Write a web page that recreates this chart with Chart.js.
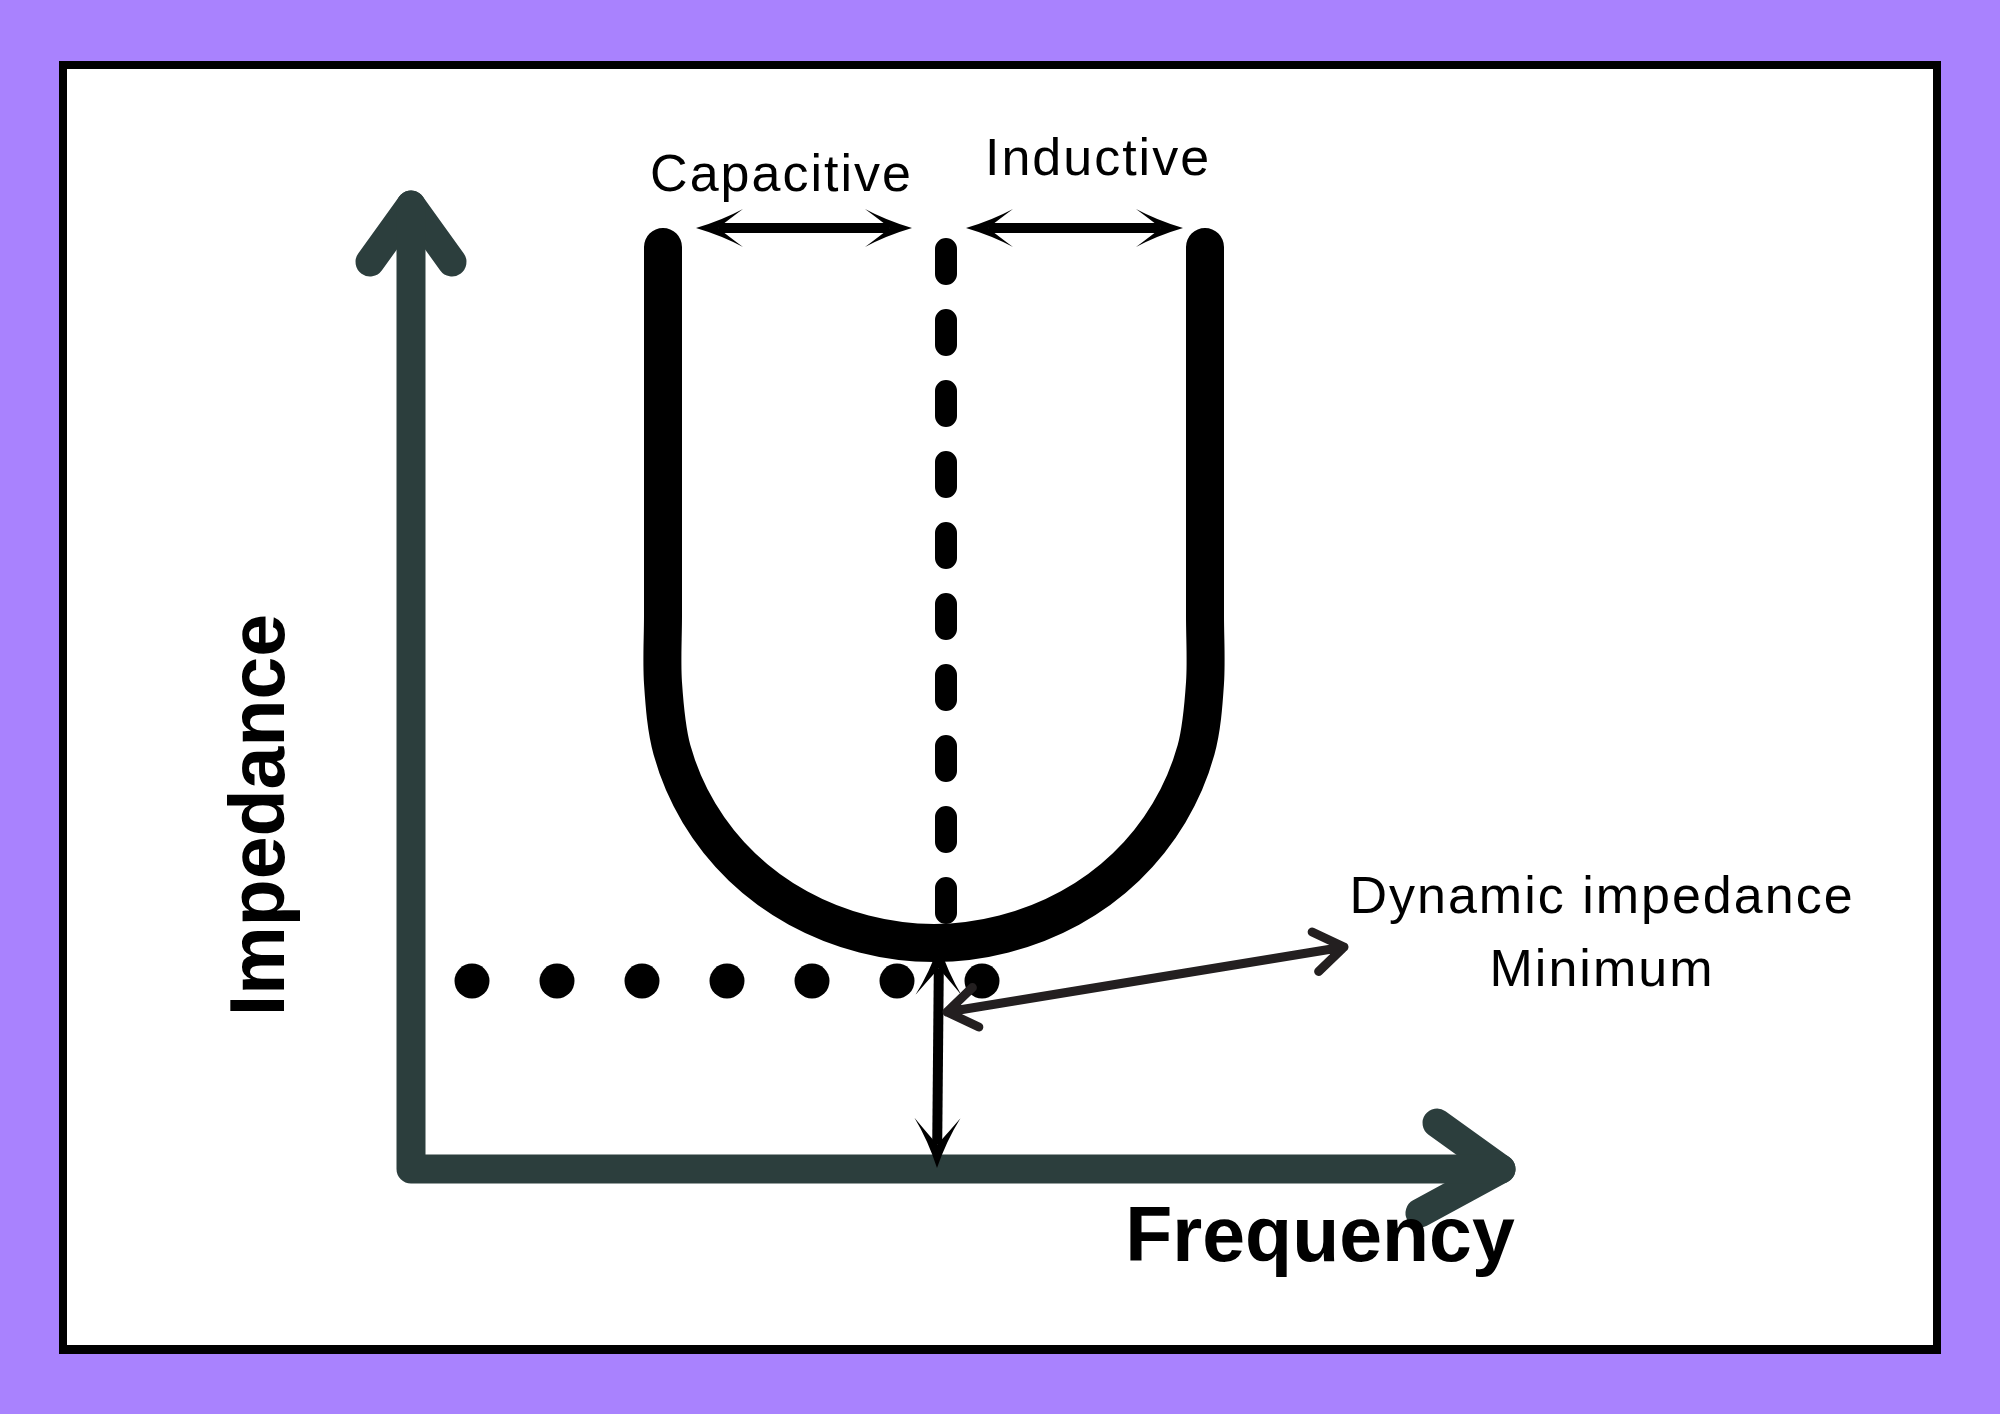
<!DOCTYPE html>
<html>
<head>
<meta charset="utf-8">
<script src="https://cdn.jsdelivr.net/npm/chart.js@4.4.1/dist/chart.umd.min.js"></script>
<style>
  html, body { margin: 0; padding: 0; }
  body { width: 2000px; height: 1414px; background: #a982fe; position: relative; overflow: hidden; }
  #frame {
    position: absolute; left: 59px; top: 61px; width: 1882px; height: 1293px;
    box-sizing: border-box; border: 8px solid #000; border-bottom-width: 9px; background: #fff;
  }
  #wrap { position: absolute; left: 0; top: 0; width: 2000px; height: 1414px; }
</style>
</head>
<body>
<div id="frame"></div>
<div id="wrap"><canvas id="chart"></canvas></div>
<script>
// Diagram values. Units: frequency / impedance, origin at the axes corner.
const axisLine = [[0, 96.4], [0, 0], [109, 0]];
const yAxisHead = [[-4.1, 90.7], [0, 96.4], [4.1, 90.7]];
const xAxisHead = [[102.6, 4.6], [109, 0], [100.9, -4.4]];

// the U shaped impedance curve: left branch, dip, right branch
const impedanceCurve = [
  [25.2, 92.2], [25.2, 55.3], [25.2, 48.6],
  [26.1, 41.9], [28.8, 35.6], [33.1, 30.2], [38.7, 26.1], [45.3, 23.5],
  [52.3, 22.6],
  [59.3, 23.5], [65.9, 26.1], [71.5, 30.2], [75.8, 35.6], [78.5, 41.9],
  [79.4, 48.6], [79.4, 55.3], [79.4, 92.2]
];

// resonance line and the dotted minimum level
const resonanceLine = [[53.5, 92.0], [53.5, 25.6]];
const dotFreqs = [6.1, 14.6, 23.1, 31.6, 40.1, 48.6, 57.1];
const dotLevel = 18.8;

// arrows (start, end)
const regionArrows = [
  [[28.5, 94.1], [50.1, 94.1]],
  [[55.5, 94.1], [77.2, 94.1]]
];
const minimumArrow = [[52.8, 22.4], [52.6, 0.1]];
const labelArrow = [[53.6, 15.7], [93.3, 22.2]];

// text
const labelText = ['Capacitive', 'Inductive', 'Dynamic impedance', 'Minimum'];
const labelAnchor = [[37.05, 97.8], [68.7, 99.4], [119.1, 25.6], [119.1, 18.3]];
const axisTitles = ['Frequency', 'Impedance'];
const axisTitleAnchor = [[90.9, -9.2], [-12.7, 35.4]];

const AXIS_COLOR = '#2c3e3d';
const toPts = arr => arr.map(p => ({ x: p[0], y: p[1] }));

function lineSet(data, color, width, extra) {
  return Object.assign({
    data: toPts(data),
    showLine: true,
    borderColor: color,
    borderWidth: width,
    borderCapStyle: 'round',
    borderJoinStyle: 'round',
    pointRadius: 0,
    tension: 0,
    fill: false
  }, extra || {});
}

function sweptHead(ctx, tip, back, L, W) {
  const perp = { x: -back.y, y: back.x };
  const P = (u, v) => [tip.x + back.x * u + perp.x * v, tip.y + back.y * u + perp.y * v];
  const N = 0.47 * L;
  ctx.beginPath();
  ctx.moveTo(...P(0, 0));
  ctx.quadraticCurveTo(...P(0.55 * L, 0.4 * W), ...P(L, W));
  ctx.quadraticCurveTo(...P(0.7 * L, 0.45 * W), ...P(N, 0));
  ctx.quadraticCurveTo(...P(0.7 * L, -0.45 * W), ...P(L, -W));
  ctx.quadraticCurveTo(...P(0.55 * L, -0.4 * W), ...P(0, 0));
  ctx.closePath();
  ctx.fill();
}

function sweptArrow(ctx, a, b, L, W, shaft) {
  const len = Math.hypot(b.x - a.x, b.y - a.y);
  const d = { x: (b.x - a.x) / len, y: (b.y - a.y) / len };
  const N = 0.47 * L;
  ctx.lineWidth = shaft;
  ctx.lineCap = 'butt';
  ctx.beginPath();
  ctx.moveTo(a.x + d.x * N, a.y + d.y * N);
  ctx.lineTo(b.x - d.x * N, b.y - d.y * N);
  ctx.stroke();
  sweptHead(ctx, a, d, L, W);
  sweptHead(ctx, b, { x: -d.x, y: -d.y }, L, W);
}

function chevronArrow(ctx, a, b, back, half, width) {
  const len = Math.hypot(b.x - a.x, b.y - a.y);
  const d = { x: (b.x - a.x) / len, y: (b.y - a.y) / len };
  const n = { x: -d.y, y: d.x };
  ctx.lineWidth = width;
  ctx.lineCap = 'round';
  ctx.lineJoin = 'round';
  ctx.beginPath();
  ctx.moveTo(a.x, a.y);
  ctx.lineTo(b.x, b.y);
  [[a, 1], [b, -1]].forEach(([t, s]) => {
    ctx.moveTo(t.x + s * d.x * back + n.x * half, t.y + s * d.y * back + n.y * half);
    ctx.lineTo(t.x, t.y);
    ctx.lineTo(t.x + s * d.x * back - n.x * half, t.y + s * d.y * back - n.y * half);
  });
  ctx.stroke();
}

const diagramOverlay = {
  id: 'diagramOverlay',
  afterDatasetsDraw(chart) {
    const { ctx, scales } = chart;
    const px = p => ({ x: scales.x.getPixelForValue(p[0]), y: scales.y.getPixelForValue(p[1]) });

    ctx.save();
    ctx.fillStyle = '#000';
    ctx.strokeStyle = '#000';
    regionArrows.forEach(a => sweptArrow(ctx, px(a[0]), px(a[1]), 47, 19, 10));
    sweptArrow(ctx, px(minimumArrow[0]), px(minimumArrow[1]), 50, 23, 10);

    ctx.strokeStyle = '#231f20';
    chevronArrow(ctx, px(labelArrow[0]), px(labelArrow[1]), 29, 20, 9);

    // labels
    ctx.fillStyle = '#000';
    ctx.textAlign = 'center';
    ctx.textBaseline = 'alphabetic';
    ctx.font = '52px "Liberation Sans", Arial, sans-serif';
    ctx.letterSpacing = '2px';
    labelText.forEach((t, i) => {
      const p = px(labelAnchor[i]);
      ctx.fillText(t, p.x, p.y);
    });

    // axis titles
    ctx.letterSpacing = '0px';
    ctx.font = 'bold 77px "Liberation Sans", Arial, sans-serif';
    const f = px(axisTitleAnchor[0]);
    ctx.fillText(axisTitles[0], f.x, f.y);
    const im = px(axisTitleAnchor[1]);
    ctx.translate(im.x, im.y);
    ctx.rotate(-Math.PI / 2);
    ctx.fillText(axisTitles[1], 0, 0);
    ctx.restore();
  }
};

new Chart(document.getElementById('chart'), {
  type: 'scatter',
  data: {
    datasets: [
      lineSet(axisLine, AXIS_COLOR, 29, { order: 5 }),
      lineSet(yAxisHead, AXIS_COLOR, 29, { order: 5 }),
      lineSet(xAxisHead, AXIS_COLOR, 29, { order: 5 }),
      lineSet(impedanceCurve, '#000', 38, { order: 3, tension: 0.33 }),
      lineSet(resonanceLine, '#000', 22, { order: 2, borderDash: [25, 46] }),
      {
        data: dotFreqs.map(f => ({ x: f, y: dotLevel })),
        showLine: false,
        pointRadius: 17.5,
        pointBackgroundColor: '#000',
        pointBorderWidth: 0,
        order: 4
      }
    ]
  },
  options: {
    responsive: true,
    maintainAspectRatio: false,
    animation: false,
    events: [],
    layout: { padding: 0, autoPadding: false },
    plugins: {
      legend: { display: false },
      tooltip: { enabled: false }
    },
    scales: {
      x: { type: 'linear', display: false, min: -41.1, max: 158.9 },
      y: { type: 'linear', display: false, min: -24.5, max: 116.9 }
    }
  },
  plugins: [diagramOverlay]
});
</script>
</body>
</html>
